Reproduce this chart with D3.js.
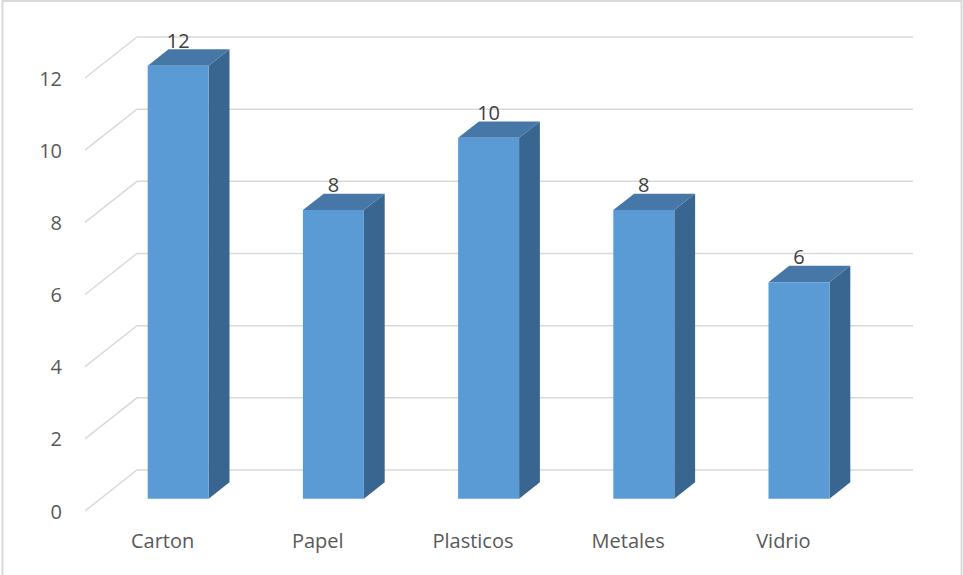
<!DOCTYPE html>
<html>
<head>
<meta charset="utf-8">
<script src="https://cdn.jsdelivr.net/npm/d3@7/dist/d3.min.js"></script>
<style>
  html, body { margin: 0; padding: 0; background: #fff; }
  svg { display: block; }
</style>
</head>
<body>
<svg id="chart" width="963" height="575"></svg>
<script>
// Materials collected (units)
const categories = ["Carton", "Papel", "Plasticos", "Metales", "Vidrio"];
const values = [12, 8, 10, 8, 6];
const yTicks = [0, 2, 4, 6, 8, 10, 12];

const svg = d3.select("#chart");
const FONT = "'Open Sans', Lato, sans-serif";

// Frame
svg.append("rect")
  .attr("x", 2.5).attr("y", 1).attr("width", 959).attr("height", 580)
  .attr("fill", "#fff").attr("stroke", "#d9d9d9").attr("stroke-width", 2);

// Floor front edge spans left->right; depth vector runs to the back wall
const depth = { dx: 52, dy: -41 };
const x = d3.scaleBand().domain(categories).range([85, 861]).padding(0);
const y = d3.scaleLinear().domain([0, 12]).range([511, 78]);

// Project a point at front-x, value, depth fraction t (0 = front, 1 = back wall)
const P = (xf, v, t) => [xf + depth.dx * t, y(v) + depth.dy * t];

// Gridlines: side wall diagonal + back wall horizontal
const grid = svg.append("g");
yTicks.forEach(v => {
  const a = P(85, v, 0), b = P(85, v, 1), c = [913, b[1]];
  grid.append("polyline")
    .attr("points", [a, b, c].map(p => p.join(",")).join(" "))
    .attr("fill", "none").attr("stroke", "#d9d9d9").attr("stroke-width", 1.5);
});

// Y axis labels
svg.append("g").selectAll("text").data(yTicks).join("text")
  .attr("x", 62).attr("y", d => y(d) + 7.5)
  .attr("text-anchor", "end")
  .attr("font-family", FONT)
  .attr("font-size", 20).attr("fill", "#595959")
  .text(d => d);

// Bars
const t0 = 0.3, t1 = 0.7;
const barFrac = 0.393;
const bars = svg.append("g");
categories.forEach((cat, i) => {
  const v = values[i];
  const bw = x.bandwidth() * barFrac;
  const xl = x(cat) + (x.bandwidth() - bw) / 2;
  const xr = xl + bw;
  const poly = pts => pts.map(p => p.join(",")).join(" ");
  // side face
  bars.append("polygon")
    .attr("points", poly([P(xr, 0, t0), P(xr, v, t0), P(xr, v, t1), P(xr, 0, t1)]))
    .attr("fill", "#396690");
  // top face
  bars.append("polygon")
    .attr("points", poly([P(xl, v, t0), P(xr, v, t0), P(xr, v, t1), P(xl, v, t1)]))
    .attr("fill", "#4677a6");
  // front face
  bars.append("polygon")
    .attr("points", poly([P(xl, 0, t0), P(xr, 0, t0), P(xr, v, t0), P(xl, v, t0)]))
    .attr("fill", "#5b9bd5");
  // value label
  const top = P((xl + xr) / 2, v, t1);
  bars.append("text")
    .attr("x", (xl + xr) / 2 + depth.dx * t0).attr("y", top[1] - 1.5)
    .attr("text-anchor", "middle")
    .attr("font-family", FONT)
    .attr("font-size", 20).attr("fill", "#404040")
    .text(v);
});

// Category labels along the floor front edge
svg.append("g").selectAll("text").data(categories).join("text")
  .attr("x", d => x(d) + x.bandwidth() / 2)
  .attr("y", 548)
  .attr("text-anchor", "middle")
  .attr("font-family", FONT)
  .attr("font-size", 20).attr("fill", "#595959")
  .text(d => d);
</script>
</body>
</html>
